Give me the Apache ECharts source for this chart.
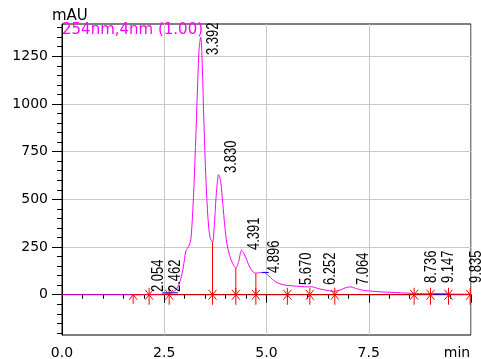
<!DOCTYPE html>
<html>
<head>
<meta charset="utf-8">
<script src="https://cdn.jsdelivr.net/npm/echarts@6/dist/echarts.min.js"></script>
<style>html,body{margin:0;padding:0;background:#fff}#c{width:481px;height:359px}</style>
</head>
<body>
<div id="c"></div>
<script>
// ---- data ----
const traceTimes = [0.0,1.0,1.7,2.0,2.054,2.2,2.4,2.462,2.6,2.7,2.8,2.9,2.97,3.03,3.1,3.15,3.2,3.25,3.3,3.35,3.392,3.43,3.47,3.52,3.57,3.62,3.68,3.72,3.77,3.83,3.88,3.93,3.98,4.03,4.1,4.17,4.25,4.32,4.39,4.45,4.52,4.6,4.68,4.74,4.8,4.896,4.96,5.05,5.15,5.26,5.4,5.55,5.67,5.85,6.0,6.1,6.252,6.4,6.55,6.67,6.8,6.95,7.064,7.2,7.35,7.5,7.8,8.0,8.3,8.6,8.736,9.0,9.147,9.4,9.835,10.0];
const traceValues = [0,0,0,1,2,1,2,3,6,12,30,80,150,230,255,290,450,700,1000,1280,1350,1200,900,600,400,300,276,350,520,630,590,480,360,270,205,165,140,175,234,215,180,140,118,113,115,116,115,100,80,63,53,48,46,43,41,42,33,26,20,18,25,38,41,32,24,20,15,13,10,7,6,5,5,4,3,3];

const peakTimes = [2.054,2.462,3.392,3.830,4.391,4.896,5.670,6.252,7.064,8.736,9.147,9.835];
const peakLabelLevels = [14,14,1256,638,234,114,51,51,51,61,61,61];

const integrationStart = [1.74];
const integrationMarks = [2.13,2.62,3.68,4.25,4.74,5.51,6.06,6.67,8.61,9.01,9.45,9.98];

const dropTimes = [3.68,4.25,4.74];
const dropValues = [276,140,113];

const baselineStart = 1.74, baselineEnd = 10.0;
const blueSegStart = [2.45,4.89,9.07];
const blueSegEnd = [2.84,5.06,9.41];
const blueSegValue = [10,117,3];

const xTickValues = [0,2.5,5,7.5];
const xTickLabels = ['0.0','2.5','5.0','7.5'];
const yTickValues = [0,250,500,750,1000,1250];
const yTickLabels = ['0','250','500','750','1000','1250'];
const yMinorValues = [];
for (let v = -200; v <= 1400; v += 50) yMinorValues.push(v);

const channelName = '254nm,4nm (1.00)';
const yUnit = 'mAU';
const xUnit = 'min';

// ---- chart ----
const FONT = '"DejaVu Sans", sans-serif';
const chart = echarts.init(document.getElementById('c'), null, {renderer:'canvas'});
const yMin = -211, yMax = 1419, xMax = 10;

const option = {
  animation: false,
  title: {
    text: channelName, left: 62, top: 23, padding: 0,
    textStyle: {color:'#ff00ff', fontSize:15, fontWeight:'normal', fontFamily:FONT}
  },
  grid: {left:62, top:24, right:10, bottom:24, show:true, borderColor:'#000', borderWidth:1, containLabel:false, outerBoundsMode:'none'},
  xAxis: {
    type:'value', min:0, max:xMax, interval:2.5,
    axisLine:{show:true, lineStyle:{color:'#000', width:1}},
    axisTick:{show:true, length:8, lineStyle:{color:'#000'}},
    minorTick:{show:true, splitNumber:5, length:4, lineStyle:{color:'#000'}},
    axisLabel:{margin:11, color:'#000', fontSize:14, fontFamily:FONT, showMaxLabel:true, hideOverlap:false,
      formatter: v => {
        if (v === xMax) return '{u|' + xUnit + '}';
        const i = xTickValues.indexOf(v); return i >= 0 ? xTickLabels[i] : '';
      },
      rich:{u:{color:'#000', fontSize:14, fontFamily:FONT, padding:[0,28,0,0]}}},
    splitLine:{show:true, lineStyle:{color:'#c8c8c8', width:1}},
    minorSplitLine:{show:false}
  },
  yAxis: [{
    type:'value', min:yMin, max:yMax, position:'left',
    axisLine:{show:true, lineStyle:{color:'#000', width:1}},
    axisTick:{show:true, length:10, customValues:yTickValues, lineStyle:{color:'#000'}},
    axisLabel:{margin:14, color:'#000', fontSize:14, fontFamily:FONT, customValues:yTickValues,
      formatter: v => { const i = yTickValues.indexOf(v); return i >= 0 ? yTickLabels[i] : ''; }},
    splitLine:{show:true, lineStyle:{color:'#c8c8c8', width:1}},
    name: yUnit, nameLocation:'end', nameGap:0, nameMoveOverlap:false,
    nameTextStyle:{color:'#000', fontSize:15, fontFamily:FONT, align:'left', padding:[0,0,0,-10]}
  },{
    type:'value', min:yMin, max:yMax, position:'left', offset:0,
    axisLine:{show:false},
    axisTick:{show:true, length:5, customValues:yMinorValues, lineStyle:{color:'#000'}},
    axisLabel:{show:false},
    splitLine:{show:false}
  }],
  series: [
    {
      name: channelName, type:'line', symbol:'none', smooth:0.3,
      data: traceTimes.map((t,i)=>[t, traceValues[i]]),
      lineStyle:{color:'#ff00ff', width:1}, z:2
    },
    {
      type:'line', symbol:'none', z:3,
      data: [[baselineStart,0],[baselineEnd,0]],
      lineStyle:{color:'#ff0000', width:1}
    },
    {
      type:'custom', z:4,
      data: dropTimes.map((t,i)=>[t, dropValues[i]]),
      renderItem: (params, api) => {
        const a = api.coord([api.value(0), 0]);
        const b = api.coord([api.value(0), api.value(1)]);
        return {type:'line', shape:{x1:a[0], y1:a[1], x2:b[0], y2:b[1]}, style:{stroke:'#ff0000', lineWidth:1}};
      }
    },
    {
      type:'custom', z:4,
      data: blueSegStart.map((t,i)=>[t, blueSegEnd[i], blueSegValue[i]]),
      renderItem: (params, api) => {
        const a = api.coord([api.value(0), api.value(2)]);
        const b = api.coord([api.value(1), api.value(2)]);
        return {type:'line', shape:{x1:a[0], y1:a[1], x2:b[0], y2:b[1]}, style:{stroke:'#0000ff', lineWidth:1}};
      }
    },
    {
      type:'custom', z:5, clip:true,
      data: integrationMarks.map(t=>[t, 0]),
      renderItem: (params, api) => {
        const p = api.coord([api.value(0), api.value(1)]);
        const x = p[0], y = p[1];
        const st = {stroke:'#ff0000', lineWidth:1};
        return {type:'group', children:[
          {type:'line', shape:{x1:x, y1:y-7, x2:x, y2:y+10}, style:st},
          {type:'line', shape:{x1:x-4, y1:y-5, x2:x+4, y2:y+5}, style:st},
          {type:'line', shape:{x1:x-4, y1:y+5, x2:x+4, y2:y-5}, style:st}
        ]};
      }
    },
    {
      type:'custom', z:5,
      data: integrationStart.map(t=>[t, 0]),
      renderItem: (params, api) => {
        const p = api.coord([api.value(0), api.value(1)]);
        const x = p[0], y = p[1];
        const st = {stroke:'#ff0000', lineWidth:1};
        return {type:'group', children:[
          {type:'line', shape:{x1:x, y1:y, x2:x, y2:y+9}, style:st},
          {type:'polyline', shape:{points:[[x-4,y+5],[x,y],[x+4,y+5]]}, style:{stroke:'#ff0000', lineWidth:1, fill:null}}
        ]};
      }
    },
    {
      type:'custom', z:6, clip:false,
      data: peakTimes.map((t,i)=>[t, peakLabelLevels[i]]),
      renderItem: (params, api) => {
        const p = api.coord([api.value(0), api.value(1)]);
        return {type:'text', x:p[0]+4, y:p[1], rotation:Math.PI/2, scaleX:1, scaleY:1.3,
          style:{text: peakTimes[params.dataIndex].toFixed(3), font:'13px "Liberation Sans", Arial, sans-serif', fill:'#000', align:'left', verticalAlign:'top'}};
      }
    }
  ]
};
chart.setOption(option);
</script>
</body>
</html>
